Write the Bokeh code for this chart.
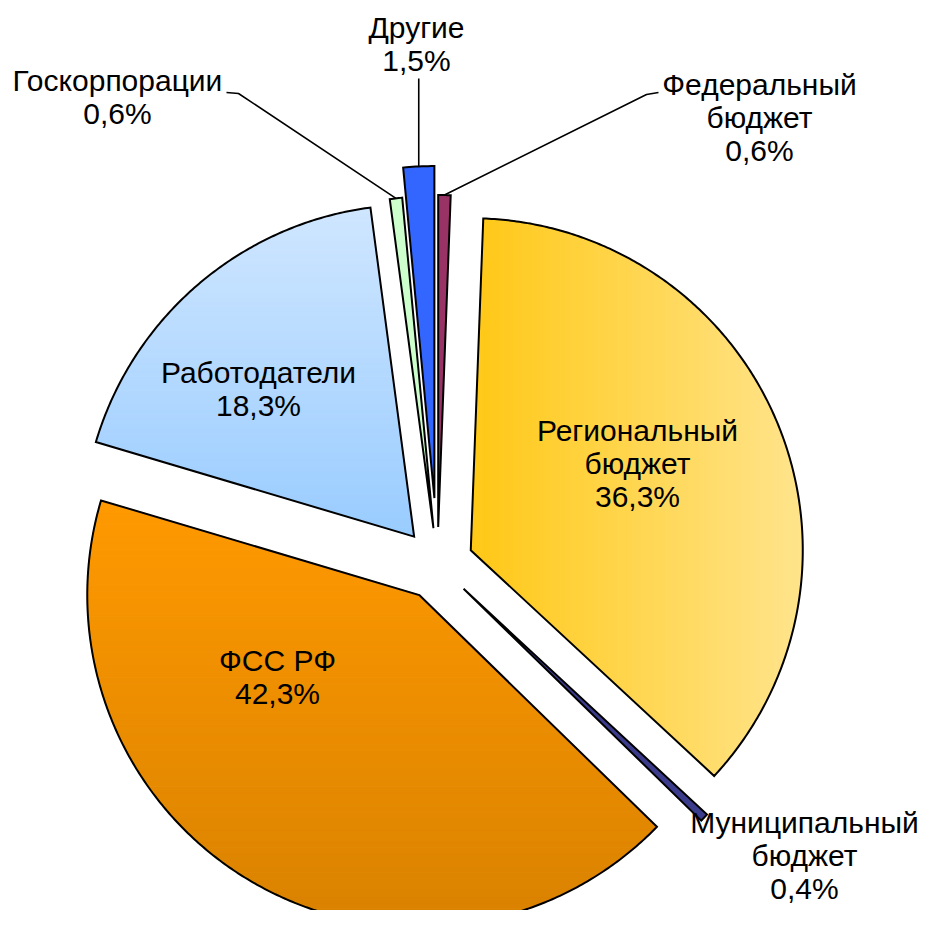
import numpy as np
from bokeh.plotting import figure
from bokeh.models import Range1d, ColumnDataSource
from bokeh.embed import file_html
from bokeh.resources import INLINE
from bokeh.core.properties import value

# ---- data (clockwise from 12 o'clock) ----
categories = ["Федеральный бюджет", "Региональный бюджет", "Муниципальный бюджет",
              "ФСС РФ", "Работодатели", "Госкорпорации", "Другие"]
shares = [0.6, 36.3, 0.4, 42.3, 18.3, 0.6, 1.5]
label_names = [["Федеральный", "бюджет"], ["Региональный", "бюджет"], ["Муниципальный", "бюджет"],
               ["ФСС РФ"], ["Работодатели"], ["Госкорпорации"], ["Другие"]]

# ---- style / layout ----
explode = [37, 36, 36, 36, 36, 36, 66]
fills = [("solid", "#993366"),
         ("x", "#FFC815", "#FFE48C"),
         ("solid", "#3C3C8C"),
         ("y", "#FF9900", "#D98200"),
         ("y", "#CFE6FF", "#99CCFF"),
         ("solid", "#CCFFCC"),
         ("solid", "#3366FF")]
label_pos = [(759, 84), (637, 430), (804, 822), (277, 660), (258, 372), (117, 80), (416, 27)]
LINE_H = 33
CX, CY, R = 437.0, -563.5, 332.0

W, H = 921, 910
p = figure(width=W, height=H, x_range=Range1d(0, W), y_range=Range1d(-H, 0),
           output_backend="svg", toolbar_location=None, x_axis_location=None,
           y_axis_location=None, min_border=0, outline_line_color=None,
           background_fill_color="white", border_fill_color="white")
p.grid.visible = False


def hex2rgb(h):
    h = h.lstrip("#")
    return np.array([int(h[i:i + 2], 16) for i in (0, 2, 4)], dtype=float)


def mix(c0, c1, f):
    c = hex2rgb(c0) * (1 - f) + hex2rgb(c1) * f
    return "#%02x%02x%02x" % tuple(int(round(v)) for v in c)


def inter(a, b, axis, val):
    t = (val - a[axis]) / (b[axis] - a[axis])
    return (a[0] + t * (b[0] - a[0]), a[1] + t * (b[1] - a[1]))


def clip_half(pts, axis, val, greater):
    out = []
    n = len(pts)
    for i in range(n):
        cur, prev = pts[i], pts[i - 1]
        cin = cur[axis] >= val if greater else cur[axis] <= val
        pin = prev[axis] >= val if greater else prev[axis] <= val
        if cin:
            if not pin:
                out.append(inter(prev, cur, axis, val))
            out.append(cur)
        elif pin:
            out.append(inter(prev, cur, axis, val))
    return out


total = float(sum(shares))
cum = np.concatenate([[0.0], np.cumsum(shares)]) / total * 2 * np.pi

outline_xs, outline_ys, outline_fill = [], [], []
strip_xs, strip_ys, strip_cols = [], [], []
anchors = []
for i, v in enumerate(shares):
    t0, t1 = cum[i], cum[i + 1]
    mid = 0.5 * (t0 + t1)
    ox = CX + explode[i] * np.sin(mid)
    oy = CY + explode[i] * np.cos(mid)
    n = max(8, int((t1 - t0) * 120))
    t = np.linspace(t0, t1, n)
    xs = [ox] + list(ox + R * np.sin(t))
    ys = [oy] + list(oy + R * np.cos(t))
    anchors.append((ox + R * np.sin(mid), oy + R * np.cos(mid)))
    f = fills[i]
    outline_xs.append(xs)
    outline_ys.append(ys)
    if f[0] == "solid":
        outline_fill.append(f[1])
        continue
    outline_fill.append(None)
    pts = list(zip(xs, ys))
    if f[0] == "x":
        lo, hi = min(xs), max(xs)
        ax = 0
    else:
        lo, hi = min(ys), max(ys)
        ax = 1
    N = 70
    edges = np.linspace(lo, hi, N + 1)
    for k in range(N):
        q = clip_half(pts, ax, edges[k], True)
        q = clip_half(q, ax, edges[k + 1], False) if q else q
        if len(q) < 3:
            continue
        c = 0.5 * (edges[k] + edges[k + 1])
        frac = (c - lo) / (hi - lo)
        if ax == 1:
            frac = 1 - frac  # top colour first
        col = mix(f[1], f[2], frac)
        strip_xs.append([a for a, b in q])
        strip_ys.append([b for a, b in q])
        strip_cols.append(col)

p.patches(xs=strip_xs, ys=strip_ys, fill_color=strip_cols, line_color=strip_cols, line_width=1)
for xs, ys, fc in zip(outline_xs, outline_ys, outline_fill):
    p.patch(xs, ys, fill_color=fc, fill_alpha=1.0 if fc else 0.0,
            line_color="black", line_width=2, line_join="miter")

# leader lines (slice anchor -> label)
idx_f = categories.index("Федеральный бюджет")
idx_g = categories.index("Госкорпорации")
idx_d = categories.index("Другие")
ax_, ay_ = anchors[idx_f]
p.line([ax_, 646, 658], [ay_, -94, -92], line_color="black", line_width=1.6)
ax_, ay_ = anchors[idx_g]
p.line([ax_, 238, 226], [ay_, -93, -92], line_color="black", line_width=1.6)
ax_, ay_ = anchors[idx_d]
p.line([ax_, ax_], [ay_, -78], line_color="black", line_width=1.6)

# labels
tx, ty, tt = [], [], []
for i, v in enumerate(shares):
    lines = label_names[i] + [("%.1f" % v).replace(".", ",") + "%"]
    x0, y0 = label_pos[i]
    for j, s in enumerate(lines):
        tx.append(x0)
        ty.append(-(y0 + j * LINE_H))
        tt.append(s)
src = ColumnDataSource(dict(x=tx, y=ty, text=tt))
p.text(x="x", y="y", text="text", source=src, text_align="center", text_baseline="middle",
       text_font=value("Liberation Sans"), text_font_size="30px", text_color="black")

open("out.html", "w").write(file_html(p, INLINE))
